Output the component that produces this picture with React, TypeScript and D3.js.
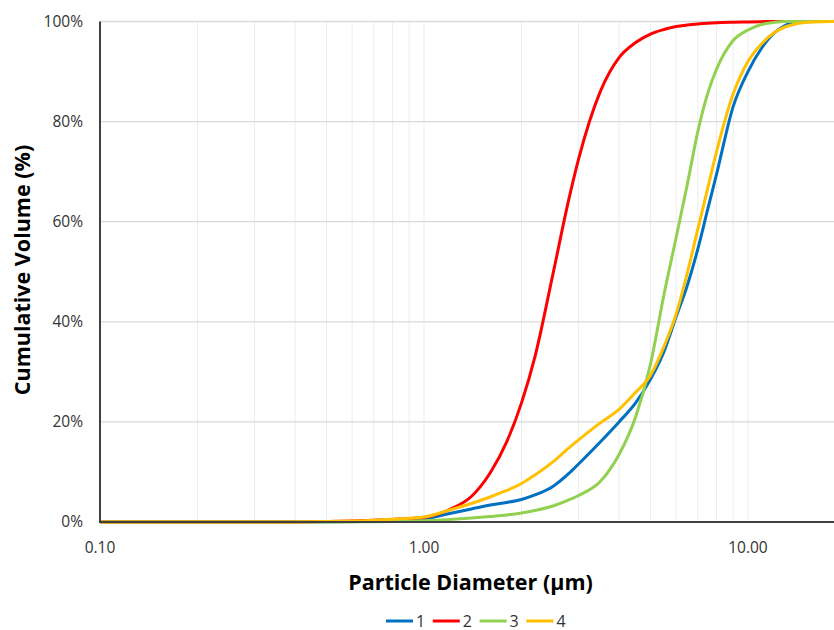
import * as d3 from 'd3';

// particle diameters (µm) shared by every series
const diameters = [
  0.1, 0.2, 0.3, 0.4, 0.5, 0.6, 0.7, 0.8, 0.9, 1.0, 1.2, 1.4, 1.6, 1.8, 2.0, 2.2, 2.5, 2.8,
  3.0, 3.5, 4.0, 4.5, 5.0, 5.5, 6.0, 6.5, 7.0, 7.5, 8.0, 9.0, 10, 11, 12, 13, 14, 16, 18, 20,
];

// cumulative volume (%) per sample
const sample1 = [
  0, 0, 0, 0, 0.05, 0.1, 0.2, 0.3, 0.45, 0.6, 1.7, 2.6, 3.4, 3.9, 4.5, 5.4, 7.1, 9.7,
  11.6, 16.0, 20, 23.8, 28.5, 34, 41, 47.3, 54.5, 62.3, 69.5, 83, 90, 94.6, 97.6, 99.2, 99.9, 100, 100, 100,
];
const sample2 = [
  0, 0, 0, 0.02, 0.1, 0.2, 0.35, 0.5, 0.7, 0.9, 2.5, 5.1, 9.8, 16.0, 23.8, 33, 49.5, 64.5,
  72.5, 86, 92.8, 95.8, 97.5, 98.4, 99.0, 99.3, 99.5, 99.65, 99.75, 99.85, 99.92, 99.97, 100, 100, 100, 100, 100, 100,
];
const sample3 = [
  0, 0, 0, 0, 0, 0.02, 0.05, 0.1, 0.15, 0.25, 0.5, 0.8, 1.1, 1.4, 1.8, 2.3, 3.2, 4.4,
  5.3, 8.1, 13.5, 21, 31.5, 45.3, 56.8, 67.5, 78, 85.5, 90.5, 96.2, 98.3, 99.4, 99.8, 100, 100, 100, 100, 100,
];
const sample4 = [
  0, 0, 0, 0.02, 0.1, 0.2, 0.35, 0.55, 0.75, 1.0, 2.4, 3.7, 5.0, 6.3, 7.7, 9.4, 12.0, 14.8,
  16.4, 19.8, 22.5, 25.9, 29.3, 35, 41.5, 49.8, 58.5, 66.5, 74, 85.5, 92, 95.5, 97.7, 98.9, 99.5, 99.9, 100, 100,
];

const seriesNames = ['1', '2', '3', '4'];
const seriesValues = [sample1, sample2, sample3, sample4];
const seriesColors = ['#0070C0', '#FF0000', '#92D050', '#FFC000'];

const xTicks = [0.1, 1, 10];
const yTicks = [0, 20, 40, 60, 80, 100];

const W = 834;
const H = 630;
const FONT = "'Open Sans', sans-serif";

export default function App() {
  const x = d3.scaleLog().domain([0.1, 20]).range([100, 845.5]);
  const y = d3.scaleLinear().domain([0, 100]).range([522, 21.5]);

  // minor grid lines 0.2 .. 20
  const minor: number[] = [];
  for (let dec = 0.1; dec < 20; dec *= 10) {
    for (let k = 1; k <= 9; k++) {
      const v = +(dec * k).toPrecision(3);
      if (v > 0.1 && v <= 20) minor.push(v);
    }
  }

  const line = d3
    .line<[number, number]>()
    .x((d) => x(d[0]))
    .y((d) => y(d[1]))
    .curve(d3.curveMonotoneX);

  const legendX0 = 386;
  const legendStep = 46.8;

  return (
    <svg
      width={W}
      height={H}
      style={{ position: 'absolute', left: 0, top: 0, background: '#fff' }}
      fontFamily={FONT}
    >
      <rect width={W} height={H} fill="#fff" />
      {/* vertical grid */}
      {minor.map((v) => (
        <line key={'v' + v} x1={x(v)} x2={x(v)} y1={y(100)} y2={y(0)} stroke="#ededed" strokeWidth={1} />
      ))}
      {/* horizontal grid */}
      {yTicks.map((t) => (
        <line key={'h' + t} x1={100} x2={W} y1={y(t)} y2={y(t)} stroke="#d9d9d9" strokeWidth={1.3} />
      ))}

      {/* series */}
      {seriesValues.map((vals, i) => (
        <path
          key={seriesNames[i]}
          d={line(diameters.map((d, j) => [d, vals[j]] as [number, number])) || ''}
          fill="none"
          stroke={seriesColors[i]}
          strokeWidth={3}
          strokeLinejoin="round"
        />
      ))}

      {/* axes */}
      <line x1={100} x2={100} y1={y(100)} y2={y(0) + 1} stroke="#404040" strokeWidth={2} />
      <line x1={99} x2={W} y1={y(0)} y2={y(0)} stroke="#404040" strokeWidth={2} />

      {yTicks.map((t) => (
        <text key={'yt' + t} x={83} y={y(t)} dy="0.35em" textAnchor="end" fontSize={15.5} fill="#333">
          {t}%
        </text>
      ))}
      {xTicks.map((t) => (
        <text key={'xt' + t} x={x(t)} y={553} textAnchor="middle" fontSize={15.5} fill="#333">
          {d3.format('.2f')(t)}
        </text>
      ))}

      <text
        transform={`translate(30,270) rotate(-90)`}
        textAnchor="middle"
        fontSize={21.5}
        fontWeight="bold"
        fill="#000"
      >
        Cumulative Volume (%)
      </text>
      <text x={470.5} y={590} textAnchor="middle" fontSize={21.5} fontWeight="bold" fill="#000">
        Particle Diameter (µm)
      </text>

      {/* legend */}
      {seriesNames.map((n, i) => (
        <g key={'lg' + n} transform={`translate(${legendX0 + i * legendStep},621)`}>
          <line x1={0} x2={27} y1={0} y2={0} stroke={seriesColors[i]} strokeWidth={3} />
          <text x={30} y={0} dy="0.35em" fontSize={16} fill="#333">
            {n}
          </text>
        </g>
      ))}
    </svg>
  );
}
